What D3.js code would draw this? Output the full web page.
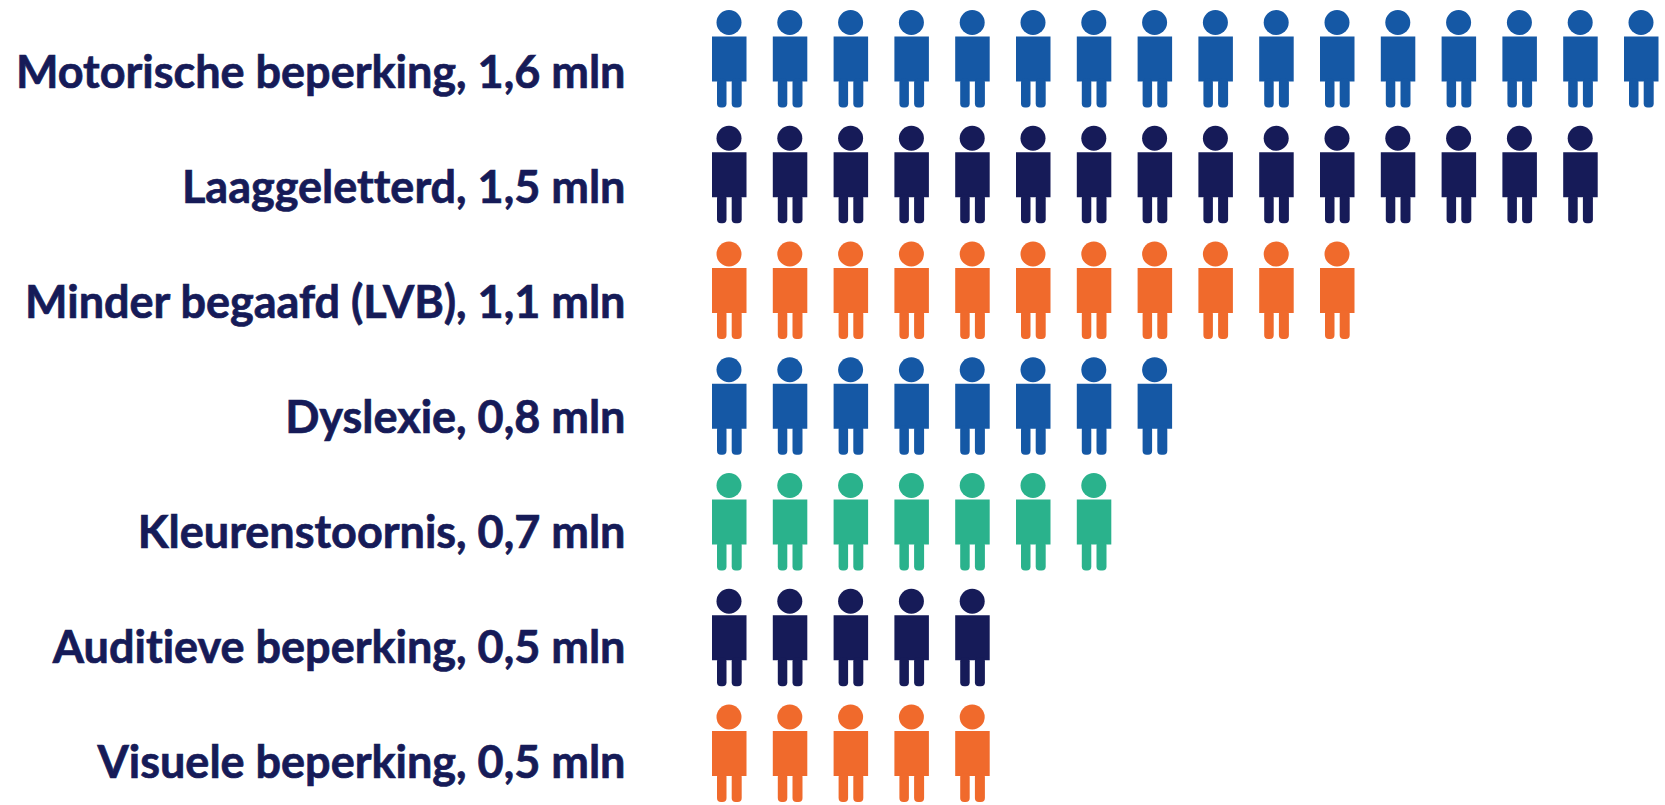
<!DOCTYPE html>
<html>
<head>
<meta charset="utf-8">
<script src="https://cdn.jsdelivr.net/npm/d3@7"></script>
<style>
  html, body { margin: 0; padding: 0; background: #fff; overflow: hidden; }
  text { font-family: Lato, sans-serif; font-weight: 700; font-variant-ligatures: none; }
</style>
</head>
<body>
<svg width="1665" height="805"></svg>
<script>
// one icon = 100.000 mensen
const categories = ["Motorische beperking", "Laaggeletterd", "Minder begaafd (LVB)", "Dyslexie", "Kleurenstoornis", "Auditieve beperking", "Visuele beperking"];
const labels = ["1,6 mln", "1,5 mln", "1,1 mln", "0,8 mln", "0,7 mln", "0,5 mln", "0,5 mln"];
const counts = [16, 15, 11, 8, 7, 5, 5];
const colors = ["#1558a5", "#161b58", "#f06a2c", "#1558a5", "#2ab28c", "#161b58", "#f06a2c"];

const svg = d3.select("svg");

const x = d3.scaleLinear().domain([0, 15]).range([729, 1641]);
const y = d3.scaleLinear().domain([0, 6]).range([0.5, 695]);
// text rows sit a little closer together than the icon rows
const yText = d3.scaleLinear().domain([0, 6]).range([87.5, 778]);

svg.selectAll("text.label")
  .data(categories)
  .join("text")
  .attr("class", "label")
  .attr("x", 625.5)
  .attr("y", (d, i) => yText(i))
  .attr("text-anchor", "end")
  .attr("font-size", 45)
  .attr("fill", "#161b58")
  .attr("stroke", "#161b58")
  .attr("stroke-width", 0.7)
  .text((d, i) => d + ", " + labels[i]);

const rows = svg.selectAll("g.row")
  .data(categories)
  .join("g")
  .attr("class", "row")
  .attr("transform", (d, i) => `translate(0,${y(i)})`);

const people = rows.selectAll("g.person")
  .data((d, i) => d3.range(counts[i]).map(n => ({ n: n, color: colors[i] })))
  .join("g")
  .attr("class", "person")
  .attr("fill", d => d.color)
  .attr("transform", d => `translate(${x(d.n)},0)`);

people.append("circle").attr("cy", 22).attr("r", 12.5);
people.append("rect").attr("x", -17).attr("y", 36).attr("width", 34.5).attr("height", 45);
people.append("rect").attr("x", -12).attr("y", 78).attr("width", 9.5).attr("height", 29).attr("rx", 4);
people.append("rect").attr("x", 2.7).attr("y", 78).attr("width", 10).attr("height", 29).attr("rx", 4);
</script>
</body>
</html>
